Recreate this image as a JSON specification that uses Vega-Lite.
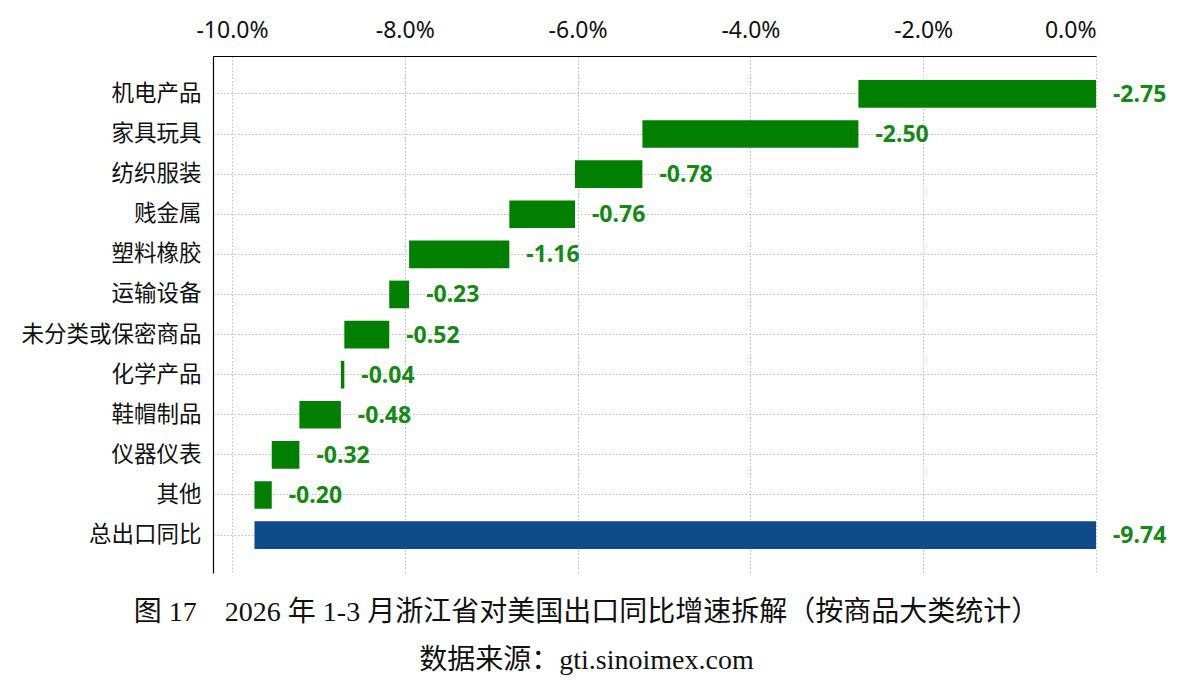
{
  "$schema": "https://vega.github.io/schema/vega-lite/v6.json",
  "autosize": {"type": "none"},
  "padding": {"left": 213, "top": 56, "right": 102, "bottom": 126},
  "width": 883,
  "height": 517,
  "background": "white",
  "view": {"stroke": null},
  "config": {
    "locale": {
      "number": {"decimal": ".", "thousands": ",", "grouping": [3], "currency": ["$", ""], "minus": "-"}
    }
  },
  "title": {
    "text": "图 17　2026 年 1-3 月浙江省对美国出口同比增速拆解（按商品大类统计）",
    "subtitle": "数据来源：gti.sinoimex.com",
    "orient": "bottom",
    "anchor": "middle",
    "frame": "group",
    "dx": -68,
    "offset": 26,
    "font": "Liberation Serif, Noto Sans CJK SC",
    "fontSize": 28,
    "fontWeight": "normal",
    "color": "#111",
    "subtitleFont": "Liberation Serif, Noto Sans CJK SC",
    "subtitleFontSize": 28,
    "subtitleColor": "#111",
    "subtitlePadding": 20
  },
  "data": {
    "values": [
      {"cat": "机电产品", "start": 0, "end": -2.75, "value": -2.75, "type": "item"},
      {"cat": "家具玩具", "start": -2.75, "end": -5.25, "value": -2.50, "type": "item"},
      {"cat": "纺织服装", "start": -5.25, "end": -6.03, "value": -0.78, "type": "item"},
      {"cat": "贱金属", "start": -6.03, "end": -6.79, "value": -0.76, "type": "item"},
      {"cat": "塑料橡胶", "start": -6.79, "end": -7.95, "value": -1.16, "type": "item"},
      {"cat": "运输设备", "start": -7.95, "end": -8.18, "value": -0.23, "type": "item"},
      {"cat": "未分类或保密商品", "start": -8.18, "end": -8.70, "value": -0.52, "type": "item"},
      {"cat": "化学产品", "start": -8.70, "end": -8.74, "value": -0.04, "type": "item"},
      {"cat": "鞋帽制品", "start": -8.74, "end": -9.22, "value": -0.48, "type": "item"},
      {"cat": "仪器仪表", "start": -9.22, "end": -9.54, "value": -0.32, "type": "item"},
      {"cat": "其他", "start": -9.54, "end": -9.74, "value": -0.20, "type": "item"},
      {"cat": "总出口同比", "start": 0, "end": -9.74, "value": -9.74, "type": "total"}
    ]
  },
  "encoding": {
    "y": {
      "field": "cat",
      "type": "nominal",
      "sort": null,
      "scale": {"paddingInner": 0.31, "paddingOuter": 0.6},
      "axis": {
        "title": null,
        "ticks": false,
        "labelFont": "Noto Sans CJK SC",
        "labelFontSize": 22.5,
        "labelLimit": 400,
        "labelColor": "#111",
        "labelPadding": 12,
        "domainColor": "#000",
        "domainWidth": 1.2,
        "grid": true,
        "bandPosition": 0.5,
        "gridColor": "#bdbdbd",
        "gridDash": [1.5, 2],
        "gridWidth": 1
      }
    }
  },
  "layer": [
    {
      "mark": {"type": "bar", "stroke": null},
      "encoding": {
        "x": {
          "field": "start",
          "type": "quantitative",
          "scale": {"domain": [-10.22, 0], "nice": false, "zero": false},
          "axis": {
            "orient": "top",
            "title": null,
            "values": [-10, -8, -6, -4, -2, 0],
            "format": ".1f",
            "labelExpr": "datum.label + '%'",
            "ticks": false,
            "labelFont": "Noto Sans",
            "labelFontSize": 23,
            "labelColor": "#111",
            "labelPadding": 14,
            "domainColor": "#000",
            "domainWidth": 1.2,
            "grid": true,
            "gridColor": "#bdbdbd",
            "gridDash": [1.5, 2],
            "gridWidth": 1
          }
        },
        "x2": {"field": "end"},
        "color": {
          "field": "type",
          "type": "nominal",
          "scale": {"domain": ["item", "total"], "range": ["#007f00", "#0f4a8a"]},
          "legend": null
        }
      }
    },
    {
      "mark": {"type": "rule", "color": "#8a8a8a", "strokeWidth": 1.2},
      "encoding": {"x": {"datum": 0, "type": "quantitative"}}
    },
    {
      "mark": {
        "type": "text",
        "align": "left",
        "baseline": "middle",
        "dx": 17,
        "dy": 1,
        "font": "Noto Sans",
        "fontSize": 23,
        "fontWeight": "bold",
        "color": "#138a13"
      },
      "encoding": {
        "x": {"field": "start", "type": "quantitative"},
        "text": {"field": "value", "type": "quantitative", "format": ".2f"}
      }
    }
  ]
}
